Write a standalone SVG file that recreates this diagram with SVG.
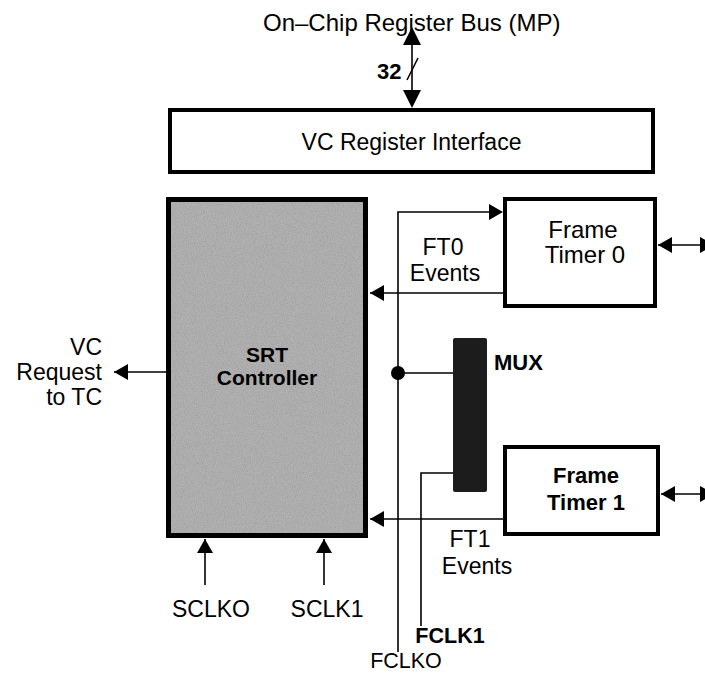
<svg xmlns="http://www.w3.org/2000/svg" width="705" height="676" viewBox="0 0 705 676">
<style>
  text { font-family: "Liberation Sans", Arial, Helvetica, sans-serif; font-size: 23px; fill: #000; }
  .b { font-weight: bold; }
  .box { fill: #fff; stroke: #000; stroke-width: 4; }
  .ln { fill: none; stroke: #000; stroke-width: 1.6; }
</style>
<defs>
  <marker id="ah" viewBox="0 0 14 16" refX="14" refY="8" markerWidth="14" markerHeight="16" markerUnits="userSpaceOnUse" orient="auto-start-reverse">
    <path d="M0,0 L14,8 L0,16 Z" fill="#000"/>
  </marker>
  <filter id="grain" x="0" y="0" width="100%" height="100%">
    <feTurbulence type="fractalNoise" baseFrequency="0.9" numOctaves="2" seed="4" result="n"/>
    <feColorMatrix in="n" type="matrix" values="0 0 0 0 0.35  0 0 0 0 0.35  0 0 0 0 0.35  0 0 0 2.2 -0.9"/>
    <feComposite in2="SourceGraphic" operator="in"/>
  </filter>
</defs>

<g id="bus-label">
  <text x="263" y="31" style="font-size:24px">On–Chip Register Bus (MP)</text>
</g>

<g id="vc-register-interface">
  <rect class="box" x="170" y="110" width="483" height="62"/>
  <text x="411.5" y="150" text-anchor="middle">VC Register Interface</text>
</g>

<g id="srt-controller">
  <rect x="168.5" y="199.5" width="197" height="336" fill="#b0b0b0" stroke="#000" stroke-width="5"/>
  <rect x="171" y="202" width="192" height="331" fill="#b0b0b0" filter="url(#grain)"/>
  <text class="b" x="267" y="362" text-anchor="middle" style="font-size:21px">SRT</text>
  <text class="b" x="267" y="385" text-anchor="middle" style="font-size:21px">Controller</text>
</g>

<g id="frame-timer-0">
  <rect class="box" x="505" y="199" width="150" height="107"/>
  <text x="583" y="238" text-anchor="middle" style="font-size:24px">Frame</text>
  <text x="585" y="263" text-anchor="middle" style="font-size:24px">Timer 0</text>
</g>

<g id="frame-timer-1">
  <rect class="box" x="505" y="447" width="153" height="87"/>
  <text class="b" x="586" y="483" text-anchor="middle" style="font-size:22px">Frame</text>
  <text class="b" x="586" y="510" text-anchor="middle" style="font-size:22px">Timer 1</text>
</g>

<g id="mux">
  <rect x="453" y="338" width="34" height="154" rx="2" fill="#1c1c1c"/>
  <text class="b" x="494" y="370" style="font-size:22px">MUX</text>
</g>

<g id="labels">
  <text class="b" x="377" y="79" style="font-size:22px">32</text>
  <text x="443" y="255" text-anchor="middle">FT0</text>
  <text x="445" y="281" text-anchor="middle">Events</text>
  <text x="470" y="547" text-anchor="middle">FT1</text>
  <text x="477" y="574" text-anchor="middle">Events</text>
  <text x="102" y="355" text-anchor="end">VC</text>
  <text x="102" y="380" text-anchor="end">Request</text>
  <text x="102" y="405" text-anchor="end">to TC</text>
  <text x="211" y="617" text-anchor="middle">SCLKO</text>
  <text x="327" y="617" text-anchor="middle">SCLK1</text>
  <text class="b" x="450" y="643" text-anchor="middle" style="font-size:21.5px">FCLK1</text>
  <text x="406" y="668" text-anchor="middle" style="font-size:21.5px">FCLKO</text>
</g>

<g id="connectors">
  <line class="ln" x1="412" y1="91" x2="412" y2="43"/>
  <path d="M412,27 L421,45 L403,45 Z" fill="#000"/>
  <path d="M412,108 L421,90 L403,90 Z" fill="#000"/>
  <line class="ln" x1="407" y1="80" x2="418" y2="58"/>
  <polyline class="ln" points="398,652 398,212 490,212"/>
  <path d="M503,212 L489,204 L489,220 Z" fill="#000"/>
  <circle cx="398" cy="373" r="7" fill="#000"/>
  <line class="ln" x1="398" y1="373" x2="453" y2="373"/>
  <polyline class="ln" points="421,626 421,473 453,473"/>
  <line class="ln" x1="503" y1="293" x2="370" y2="293" marker-end="url(#ah)"/>
  <line class="ln" x1="503" y1="519" x2="370" y2="519" marker-end="url(#ah)"/>
  <line class="ln" x1="166" y1="372" x2="114" y2="372" marker-end="url(#ah)"/>
  <line class="ln" x1="205" y1="585" x2="205" y2="539" marker-end="url(#ah)"/>
  <line class="ln" x1="324" y1="585" x2="324" y2="539" marker-end="url(#ah)"/>
  <line class="ln" x1="700" y1="245" x2="658" y2="245" marker-end="url(#ah)"/>
  <path d="M700,237 L714,245 L700,253 Z" fill="#000"/>
  <line class="ln" x1="700" y1="494" x2="661" y2="494" marker-end="url(#ah)"/>
  <path d="M700,486 L714,494 L700,502 Z" fill="#000"/>
</g>
</svg>
